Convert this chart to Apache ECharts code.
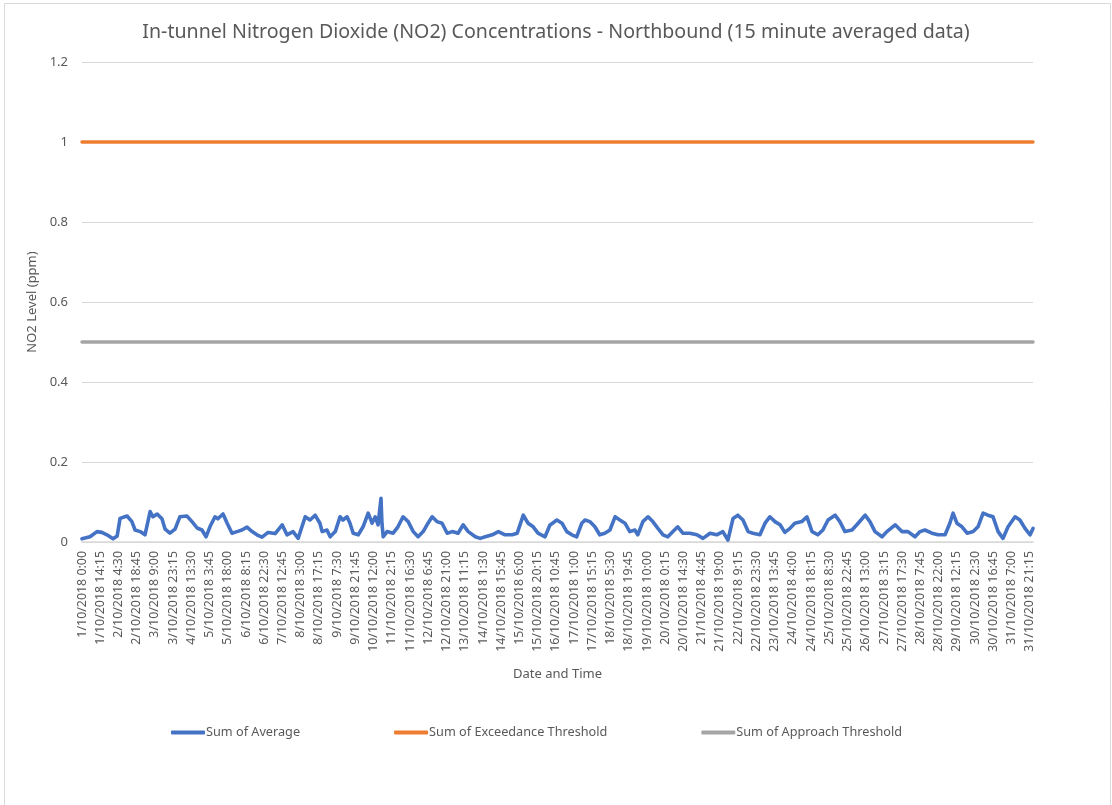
<!DOCTYPE html>
<html lang="en">
<head>
    <meta http-equiv="Content-Type" content="text/html; charset=utf-8"/>
    <title>In-tunnel NO2 - Northbound</title>
    <script type="text/javascript" src="https://cdn.jsdelivr.net/npm/echarts@6/dist/echarts.min.js"></script>
</head>
<body style="height: 100%; margin: 0; background: #fff;">
<div id="container" style="width: 1112px; height: 805px;"></div>
<script type="text/javascript">
    // hours since 1/10/2018 0:00 and the NO2 reading at that time
    var avgHours = [
        0, 6.3, 11.7, 15.6, 19.6, 24.3, 27.4, 29.7, 35.2, 39.1, 41.5, 45.4, 49.3, 53.2, 55.5, 58.7,
        62.6, 64.9, 68.8, 72.7, 76.6, 82.1, 86.0, 89.9, 93.8, 96.9, 100.1, 104.0, 106.3, 110.2, 113.4,
        117.3, 121.2, 125.1, 129.0, 132.9, 136.8, 140.8, 145.4, 150.9, 156.4, 160.3, 165.0, 168.9,
        174.4, 178.3, 182.2, 186.1,
        187.7, 191.6, 194.0, 197.9, 201.8, 204.1, 207.3, 209.6, 212.0, 215.9, 219.8, 223.7, 226.8,
        229.2, 231.5, 233.8, 234.6, 235.4, 238.5, 243.2, 247.1, 251.1, 255.0, 258.9, 262.8, 266.7,
        270.6, 273.7, 277.6, 281.6, 285.5, 289.4, 294.1, 298.0, 301.9, 307.4, 311.3, 315.2, 320.7,
        325.4, 330.8, 336.3, 340.2, 344.9, 348.8, 352.7, 356.6, 362.1, 366.0,
        371.5, 375.4, 379.3, 383.2, 387.1, 391.1, 393.4, 397.3, 401.2, 405.1, 409.0, 412.9, 416.9,
        420.8, 424.7, 428.6, 432.5, 434.8, 438.8, 442.7, 446.6, 450.5, 454.4, 458.3, 462.2, 466.1,
        470.1, 475.5, 481.0, 485.7, 491.2, 496.6, 501.3, 505.2, 509.2, 513.1, 517.0, 520.9, 524.8,
        530.3, 534.2, 538.1, 542.0, 545.9, 549.8,
        553.7, 557.6, 563.1, 567.0, 570.9, 575.6, 579.5, 583.5, 588.9, 592.8, 596.7, 602.2, 606.1,
        612.4, 616.3, 620.2, 625.7, 629.6, 635.9, 641.3, 646.0, 651.5, 655.4, 659.3, 664.8, 669.5,
        674.9, 678.8, 681.2, 684.3, 688.2, 692.2, 696.9, 700.8, 704.7, 708.6, 712.5, 716.4, 720.3,
        724.2, 729.7, 733.6, 737.5, 741.4, 743.8
    ];
    var avgValues = [
        0.008, 0.013, 0.026, 0.024, 0.018, 0.008, 0.015, 0.059, 0.065, 0.051, 0.03, 0.026, 0.018, 0.076, 0.063, 0.07,
        0.058, 0.032, 0.022, 0.032, 0.063, 0.065, 0.051, 0.035, 0.03, 0.013, 0.038, 0.063, 0.058, 0.07, 0.047,
        0.022, 0.026, 0.03, 0.037, 0.026, 0.018, 0.012, 0.024, 0.021, 0.043, 0.018, 0.026, 0.009,
        0.063, 0.055, 0.067, 0.047,
        0.026, 0.03, 0.013, 0.026, 0.063, 0.055, 0.063, 0.047, 0.022, 0.018, 0.038, 0.072, 0.047,
        0.063, 0.043, 0.109, 0.047, 0.013, 0.026, 0.022, 0.038, 0.063, 0.051, 0.026, 0.013, 0.026,
        0.047, 0.063, 0.051, 0.047, 0.022, 0.026, 0.022, 0.043, 0.026, 0.013, 0.009, 0.013, 0.018,
        0.026, 0.018, 0.018, 0.022, 0.067, 0.047, 0.038, 0.022, 0.013, 0.042,
        0.055, 0.047, 0.026, 0.018, 0.013, 0.047, 0.055, 0.051, 0.038, 0.018, 0.022, 0.03, 0.063,
        0.055, 0.047, 0.026, 0.03, 0.018, 0.051, 0.063, 0.051, 0.034, 0.018, 0.013, 0.026, 0.038,
        0.022, 0.022, 0.018, 0.009, 0.022, 0.018, 0.026, 0.005, 0.059, 0.067, 0.055, 0.026, 0.022,
        0.018, 0.047, 0.063, 0.051, 0.043, 0.024,
        0.034, 0.047, 0.051, 0.063, 0.026, 0.018, 0.03, 0.055, 0.067, 0.051, 0.026, 0.03, 0.043,
        0.067, 0.051, 0.026, 0.013, 0.026, 0.043, 0.026, 0.026, 0.013, 0.026, 0.03, 0.022, 0.018,
        0.018, 0.047, 0.072, 0.047, 0.038, 0.022, 0.026, 0.038, 0.072, 0.067, 0.063, 0.026, 0.009,
        0.038, 0.063, 0.055, 0.034, 0.018, 0.034
    ];
    var exceedanceThreshold = [1, 1];
    var approachThreshold = [0.5, 0.5];
    var yTicks = [0, 0.2, 0.4, 0.6, 0.8, 1, 1.2];

    // 15 minute timestamps for October 2018; the logger skipped one reading on 16/10
    var missingStamp = '16/10/2018 2:00';
    var categories = [];
    for (var d = 1; d <= 31; d++) {
        for (var q = 0; q < 96; q++) {
            var h = Math.floor(q / 4), m = (q % 4) * 15;
            var s = d + '/10/2018 ' + h + ':' + (m < 10 ? '0' + m : m);
            if (s !== missingStamp) categories.push(s);
        }
    }
    var lastIdx = categories.length - 1;
    var missingIdx = 15 * 96 + 8;

    function hourToIndex(hr) {
        var i = Math.round(hr * 4);
        if (i > missingIdx) i -= 1;
        return Math.min(Math.max(i, 0), lastIdx);
    }

    var avgData = [];
    for (var i = 0; i < avgHours.length; i++) {
        avgData.push([hourToIndex(avgHours[i]), avgValues[i]]);
    }
    var ends = [0, lastIdx];

    var grey = '#595959';
    var font = "'Noto Sans', 'Open Sans', sans-serif";

    var myChart = echarts.init(document.getElementById('container'));
    var option = {
        animation: false,
        backgroundColor: '#fff',
        textStyle: {fontFamily: font},
        graphic: [{
            type: 'rect',
            shape: {x: 4.5, y: 3.5, width: 1106, height: 820},
            style: {fill: 'none', stroke: '#d9d9d9', lineWidth: 1},
            silent: true
        }],
        title: {
            text: 'In-tunnel Nitrogen Dioxide (NO2) Concentrations - Northbound (15 minute averaged data)',
            left: 'center',
            top: 17,
            textStyle: {color: grey, fontSize: 19.6, fontWeight: 'normal', fontFamily: font}
        },
        legend: {
            left: 166,
            top: 721,
            icon: 'roundRect',
            itemWidth: 34,
            itemHeight: 4,
            itemGap: 94,
            textStyle: {color: grey, fontSize: 12.7, fontFamily: font, padding: [0, 0, 0, -4]},
            data: ['Sum of Average', 'Sum of Exceedance Threshold', 'Sum of Approach Threshold']
        },
        grid: {left: 82, right: 79, top: 62, bottom: 263},
        xAxis: {
            type: 'category',
            data: categories,
            boundaryGap: false,
            name: 'Date and Time',
            nameLocation: 'middle',
            nameGap: 126,
            nameTextStyle: {color: grey, fontSize: 13, fontFamily: font},
            axisLine: {lineStyle: {color: '#d9d9d9', width: 1.5}},
            axisTick: {show: false},
            axisLabel: {
                interval: 56,
                rotate: 90,
                margin: 9,
                color: grey,
                fontSize: 12.4,
                fontFamily: font
            }
        },
        yAxis: {
            type: 'value',
            min: yTicks[0],
            max: yTicks[yTicks.length - 1],
            interval: 0.2,
            name: 'NO2 Level (ppm)',
            nameLocation: 'middle',
            nameGap: 40,
            nameTextStyle: {color: grey, fontSize: 13, fontFamily: font},
            axisLine: {show: false},
            axisTick: {show: false},
            axisLabel: {color: grey, fontSize: 13, margin: 14, fontFamily: font},
            splitLine: {lineStyle: {color: '#d9d9d9', width: 1}}
        },
        series: [
            {
                name: 'Sum of Average',
                type: 'line',
                data: avgData,
                showSymbol: false,
                color: '#4472c4',
                lineStyle: {width: 3.6, cap: 'round', join: 'round'},
                z: 3
            },
            {
                name: 'Sum of Exceedance Threshold',
                type: 'line',
                data: [[ends[0], exceedanceThreshold[0]], [ends[1], exceedanceThreshold[1]]],
                showSymbol: false,
                color: '#ed7d31',
                lineStyle: {width: 3.5, cap: 'round'}
            },
            {
                name: 'Sum of Approach Threshold',
                type: 'line',
                data: [[ends[0], approachThreshold[0]], [ends[1], approachThreshold[1]]],
                showSymbol: false,
                color: '#a5a5a5',
                lineStyle: {width: 3.5, cap: 'round'}
            }
        ]
    };
    myChart.setOption(option, true);
</script>
</body>
</html>
